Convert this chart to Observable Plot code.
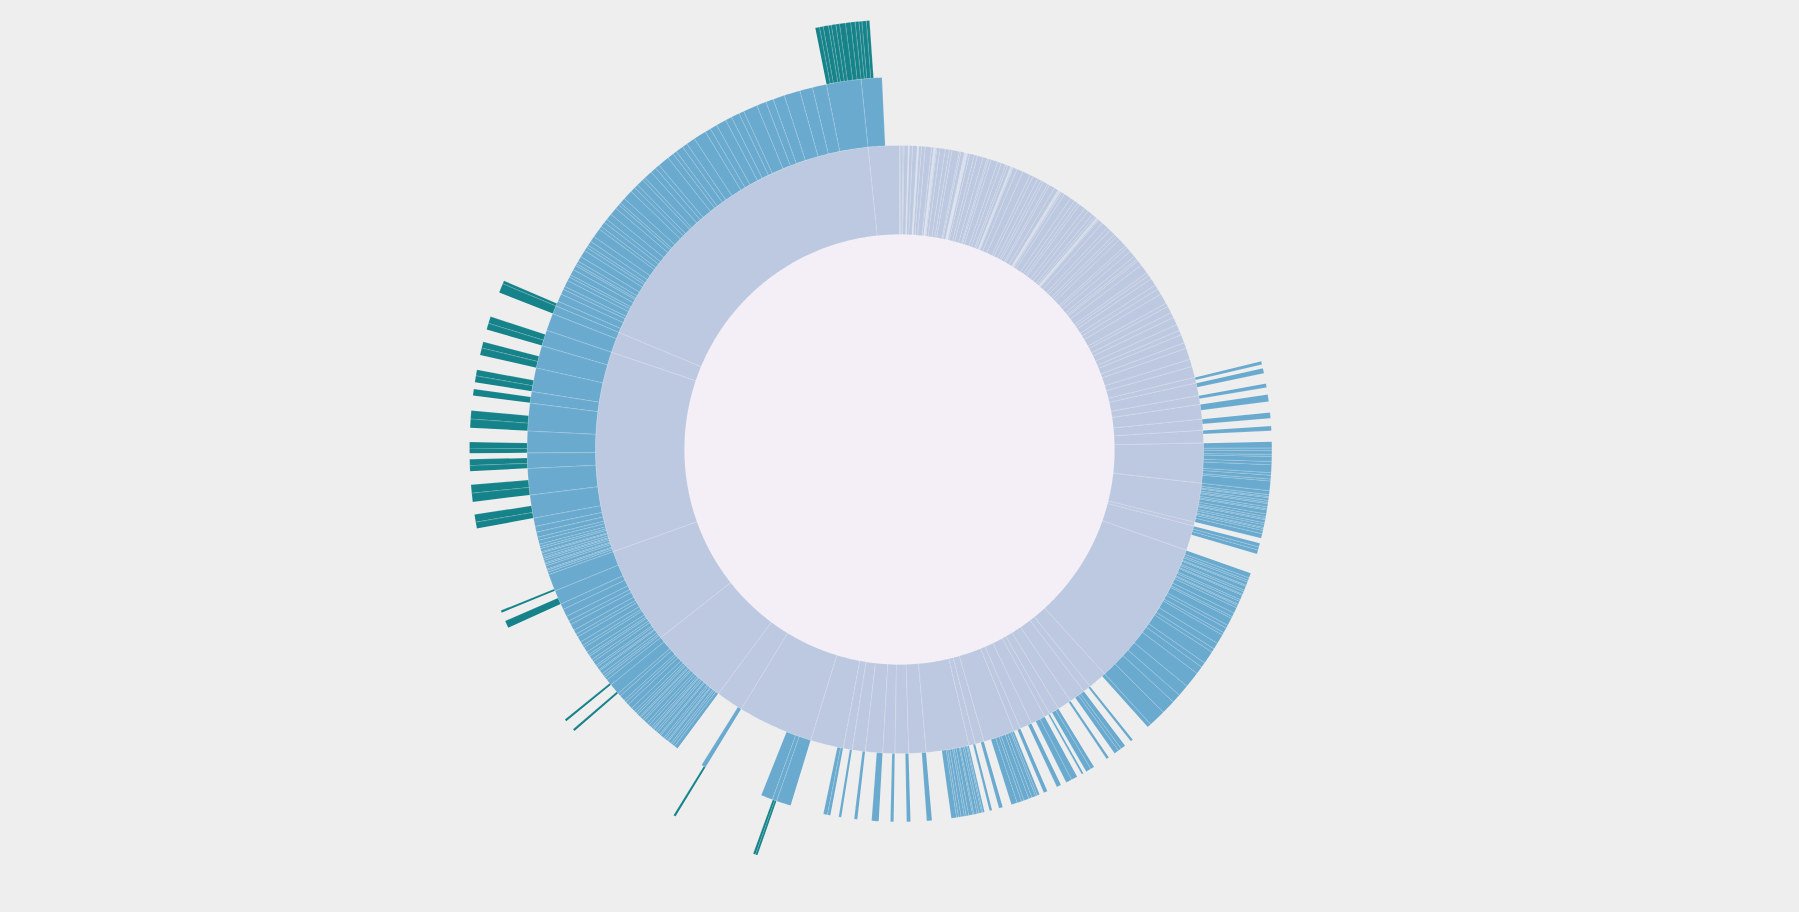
<!DOCTYPE html>
<html>
<head>
<meta charset="utf-8">
<script src="https://cdn.jsdelivr.net/npm/d3@7"></script>
<script src="https://cdn.jsdelivr.net/npm/@observablehq/plot@0.6"></script>
<style>
  body { margin: 0; background: #eeeeee; overflow: hidden; }
</style>
</head>
<body>
<div id="chart"></div>
<script>
// ring 1 leaves without sub-items (upper right quarter)
const smallLeaves = [3,4,2,8,1,1,6,9,1,1,1,5,7,12,4,1,1,1,1,2,6,10,8,5,14,3,7,1,1,1,1,1,1,4,9,6,11,8,3,5,13,7,9,4,6,1,1,1,2,8,12,15,6,10,7,5,9,4,11,8,1,1,1,1,1,3,6,14,9,7,5,12,8,10,6,4,1,1,1,1,2,9,13,7,11,6,8,16,5,9,12,7,4,10,18,6,8,14,9,11,20,7,13,10,15,12,9,16,11,22,14,21];

// ring 1 groups that have sub-items, total size of each group
const groupTotals = [11,24,17,28,21,24,76,75,7,48,282,36,15,31,27,19,11,28,23,13,60,17,12,82,33,26,23,33,25,17,63,144,52,152,186,383,40,614,59];

// ring 2 items of each group
const groupItems = [
  [5],[8],[6],[11],[9],[7],
  [10,4,6,3,8,5,12,4,6,3,15],
  [6,3,2,4,3,2,5,3,2,6,4,3,2,5,3,4,2,3,5,7],
  [],
  [6,5,6],
  [8,4,3,5,2,6,3,4,2,7,3,5,2,4,9,6,3,12,5,8,4,15,10,6,20,8,12,25,18,14,22,27],
  [6],[4],[8,5,7],[4],[6,8],[3],[10,9],[7],[6],
  [4,3,6,5,8,4,7,9],
  [6],[4],
  [3,2,4,3,5,2,6,4,3,5,4,3,8],
  [8],[6],[5],[11],[5],[4],[5,6],
  [23,7,18],
  [7],
  [6,4,3,5,2,4,3,6,2,5,3,4,2,3,5,4,6,3,4,2,5,3,4,6,8,5,4,9,5,17,10],
  [5,3,4,6,2,5,3,7,4,6,3,5,8,4,6,9,5,7,10,6,8,12,9,22,27],
  [4,3,2,5,3,2,4,3,2,3,4,2,5,3,4,6,5,8,9,13,36,41,24,34,43,18,37,35,25],
  [27,13],
  [8,12,8,5,10,6,4,9,7,3,5,8,11,6,4,7,9,14,5,8,6,10,12,7,4,9,15,8,6,11,5,13,9,7,18,10,6,12,8,14,20,9,11,16,10,13,8,22,15,12,18,25,20,22,54],
  [32]
];

// ring 3 parts: [group, item, sizes]
const itemParts = [
  [31, 1, [3,3]],
  [32, 0, [3]],
  [33, 29, [3]],
  [33, 30, [3]],
  [34, 23, [10]],
  [34, 24, [3]],
  [35, 20, [9,10]],
  [35, 21, [12,11]],
  [35, 22, [8,8]],
  [35, 23, [7,8]],
  [35, 24, [12,11]],
  [35, 25, [9]],
  [35, 26, [9,8]],
  [35, 27, [10,8]],
  [35, 28, [9,9]],
  [36, 1, [13]],
  [37, 0, [4]],
  [37, 54, [6,5,7,4,6,5,8,7,6]],
  [38, 0, [5,4,6,4]]
];

const ringColors = ["#f4eff6", "#bdc9e1", "#6aaacf", "#16838a"];

const W = 1799, H = 912;
const cx = 899, cy = 449, R = 430;

// build the hierarchy, internal nodes keep the rest of their size as own value
const groups = groupTotals.map((total, g) => {
  const items = groupItems[g].map((v, i) => {
    const entry = itemParts.find(p => p[0] === g && p[1] === i);
    const parts = entry ? entry[2] : [];
    return {value: v - d3.sum(parts), children: parts.map(p => ({value: p}))};
  });
  return {value: total - d3.sum(groupItems[g]), children: items};
});
const tree = {value: 0, children: [...smallLeaves.map(v => ({value: v})), ...groups]};

const root = d3.hierarchy(tree).sum(d => d.value);
d3.partition().size([2 * Math.PI, 1])(root);

// each node becomes a closed outline, radius = sqrt(y)
const pts = [];
root.descendants().forEach((n, id) => {
  if (n.x1 - n.x0 <= 0) return;
  const r0 = Math.sqrt(n.y0), r1 = Math.sqrt(n.y1);
  const steps = Math.max(1, Math.ceil((n.x1 - n.x0) / (Math.PI / 360)));
  for (let k = 0; k <= steps; k++) {
    const a = n.x0 + (n.x1 - n.x0) * k / steps;
    pts.push({id, depth: n.depth, x: r1 * Math.sin(a), y: r1 * Math.cos(a)});
  }
  if (r0 > 0) {
    for (let k = steps; k >= 0; k--) {
      const a = n.x0 + (n.x1 - n.x0) * k / steps;
      pts.push({id, depth: n.depth, x: r0 * Math.sin(a), y: r0 * Math.cos(a)});
    }
  }
});

const chart = Plot.plot({
  width: W,
  height: H,
  margin: 0,
  style: {background: "#eeeeee", overflow: "visible"},
  x: {domain: [-cx / R, (W - cx) / R], axis: null},
  y: {domain: [-(H - cy) / R, cy / R], axis: null},
  color: {type: "ordinal", domain: [0, 1, 2, 3], range: ringColors},
  marks: [
    Plot.line(pts, {
      x: "x",
      y: "y",
      z: "id",
      fill: "depth",
      stroke: "#ffffff",
      strokeWidth: 0.35,
      strokeOpacity: 0.4,
      curve: "linear-closed"
    })
  ]
});

document.getElementById("chart").appendChild(chart);
</script>
</body>
</html>
